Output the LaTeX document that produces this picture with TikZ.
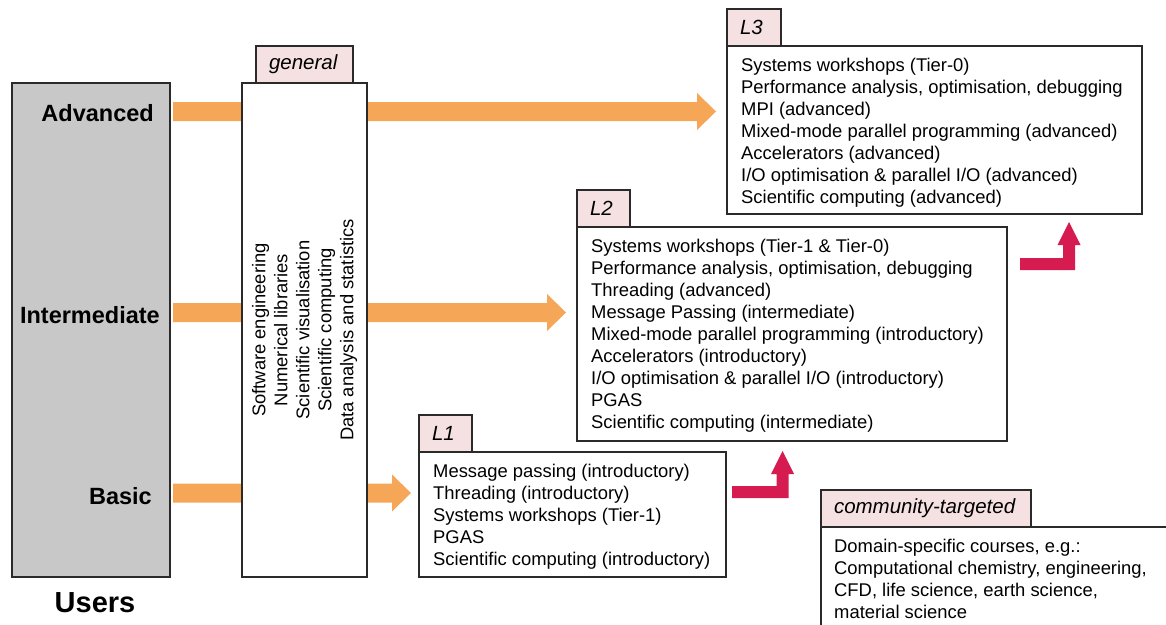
\documentclass[tikz,border=0pt]{standalone}
\usepackage{fontspec}
\setmainfont{Liberation Sans}
\usetikzlibrary{calc,backgrounds}
\definecolor{orarr}{HTML}{F6A657}
\definecolor{redarr}{HTML}{D51B4F}
\definecolor{tabpink}{HTML}{F5E1E1}
\definecolor{usergray}{HTML}{C8C8C8}
\definecolor{edge}{HTML}{2A2A2A}
\newcommand{\fatarrow}[2]{\fill[orfill] ($(#1)+(0,-9.5)$) -- ($(#2)+(-19,-9.5)$) -- ($(#2)+(-19,-18.5)$) -- (#2) -- ($(#2)+(-19,18.5)$) -- ($(#2)+(-19,9.5)$) -- ($(#1)+(0,9.5)$) -- cycle;}
\newcommand{\bentarrow}[3]{\fill[redfill] ($(#1)+(0,-6)$) -- ($(#2)+(-6,-6)$) -- ($(#3)+(-6,23)$) -- ($(#3)+(-11.5,23)$) -- (#3) -- ($(#3)+(11.5,23)$) -- ($(#3)+(6,23)$) -- ($(#2)+(6,6)$) -- ($(#1)+(0,6)$) -- cycle;}
\begin{document}
\begin{tikzpicture}[x=1pt,y=-1pt,
  box/.style={draw=edge, line width=1.3pt, fill=white, anchor=north west, inner sep=0pt, outer sep=0pt},
  tab/.style={draw=edge, line width=1.3pt, fill=tabpink, anchor=south west, minimum height=37pt, inner xsep=13pt, inner ysep=0pt, outer sep=0pt, align=left, font=\fontsize{20.5}{24}\selectfont\itshape},
  body/.style={anchor=north west, inner sep=0pt, align=left, font=\fontsize{18.4}{22}\selectfont},
  lvl/.style={anchor=east, inner sep=0pt, font=\fontsize{23.5}{28}\selectfont\bfseries},
  orfill/.style={fill=orarr},
  redfill/.style={fill=redarr}]
\useasboundingbox (0,0) rectangle (1166,624);
\clip (0,0) rectangle (1166,624);

% users
\node[box, fill=usergray, minimum width=158pt, minimum height=494pt] (users) at (12,83) {};
\node[lvl] (adv) at (154,113.5) {Advanced};
\node[lvl] (inter) at (160,315) {Intermediate};
\node[lvl] (basic) at (152,496) {Basic};
\node[inner sep=0pt, font=\fontsize{29}{34}\selectfont\bfseries] (userslbl) at (95,603) {Users};

% general
\node[box, minimum width=125pt, minimum height=494pt] (gen) at (242,83) {};
\node[tab, text width=71pt] (gentab) at ($(gen.north west)+(14,0)$) {general};
\node[body, anchor=center, align=center, rotate=90] (gentext) at (gen.center) {Software engineering\\Numerical libraries\\Scientific visualisation\\Scientific computing\\Data analysis and statistics};

% L3
\node[box, minimum width=415pt, minimum height=168pt] (L3) at (727,46) {};
\node[tab, text width=28pt] (L3tab) at (L3.north west) {L3};
\node[body] (L3text) at ($(L3.north west)+(14,11.5)$) {Systems workshops (Tier-0)\\Performance analysis, optimisation, debugging\\MPI (advanced)\\Mixed-mode parallel programming (advanced)\\Accelerators (advanced)\\I/O optimisation \& parallel I/O (advanced)\\Scientific computing (advanced)};

% L2
\node[box, minimum width=430pt, minimum height=214pt] (L2) at (577,227) {};
\node[tab, text width=27pt] (L2tab) at (L2.north west) {L2};
\node[body] (L2text) at ($(L2.north west)+(14,11.5)$) {Systems workshops (Tier-1 \& Tier-0)\\Performance analysis, optimisation, debugging\\Threading (advanced)\\Message Passing (intermediate)\\Mixed-mode parallel programming (introductory)\\Accelerators (introductory)\\I/O optimisation \& parallel I/O (introductory)\\PGAS\\Scientific computing (intermediate)};

% L1
\node[box, minimum width=307pt, minimum height=125pt] (L1) at (419,452) {};
\node[tab, text width=27pt] (L1tab) at (L1.north west) {L1};
\node[body] (L1text) at ($(L1.north west)+(14,11.5)$) {Message passing (introductory)\\Threading (introductory)\\Systems workshops (Tier-1)\\PGAS\\Scientific computing (introductory)};

% community
\node[box, minimum width=400pt, minimum height=150pt] (comm) at (821,527) {};
\node[tab, text width=184pt] (commtab) at (comm.north west) {community-targeted};
\node[body] (commtext) at ($(comm.north west)+(13,11.5)$) {Domain-specific courses, e.g.:\\Computational chemistry, engineering,\\CFD, life science, earth science,\\material science};

% orange arrows
\coordinate (a1) at ($(users.north east)+(3,28.5)$);
\coordinate (a2) at ($(L3.west |- a1)+(-11,0)$);
\coordinate (b1) at ($(users.north east)+(3,229.5)$);
\coordinate (b2) at ($(L2.west |- b1)+(-11,0)$);
\coordinate (c1) at ($(users.north east)+(3,410)$);
\coordinate (c2) at ($(L1.west |- c1)+(-8,0)$);
\begin{scope}[on background layer]
\fatarrow{a1}{a2}
\fatarrow{b1}{b2}
\fatarrow{c1}{c2}
\end{scope}

% red bent arrows
\coordinate (r1s) at ($(L1.north east)+(6,40)$);
\coordinate (r1t) at ($(L2.south west)+(205.5,10)$);
\coordinate (r1c) at (r1t |- r1s);
\bentarrow{r1s}{r1c}{r1t}
\coordinate (r2s) at ($(L2.north east)+(13,37)$);
\coordinate (r2t) at ($(L3.south west)+(342,8)$);
\coordinate (r2c) at (r2t |- r2s);
\bentarrow{r2s}{r2c}{r2t}
\end{tikzpicture}
\end{document}
